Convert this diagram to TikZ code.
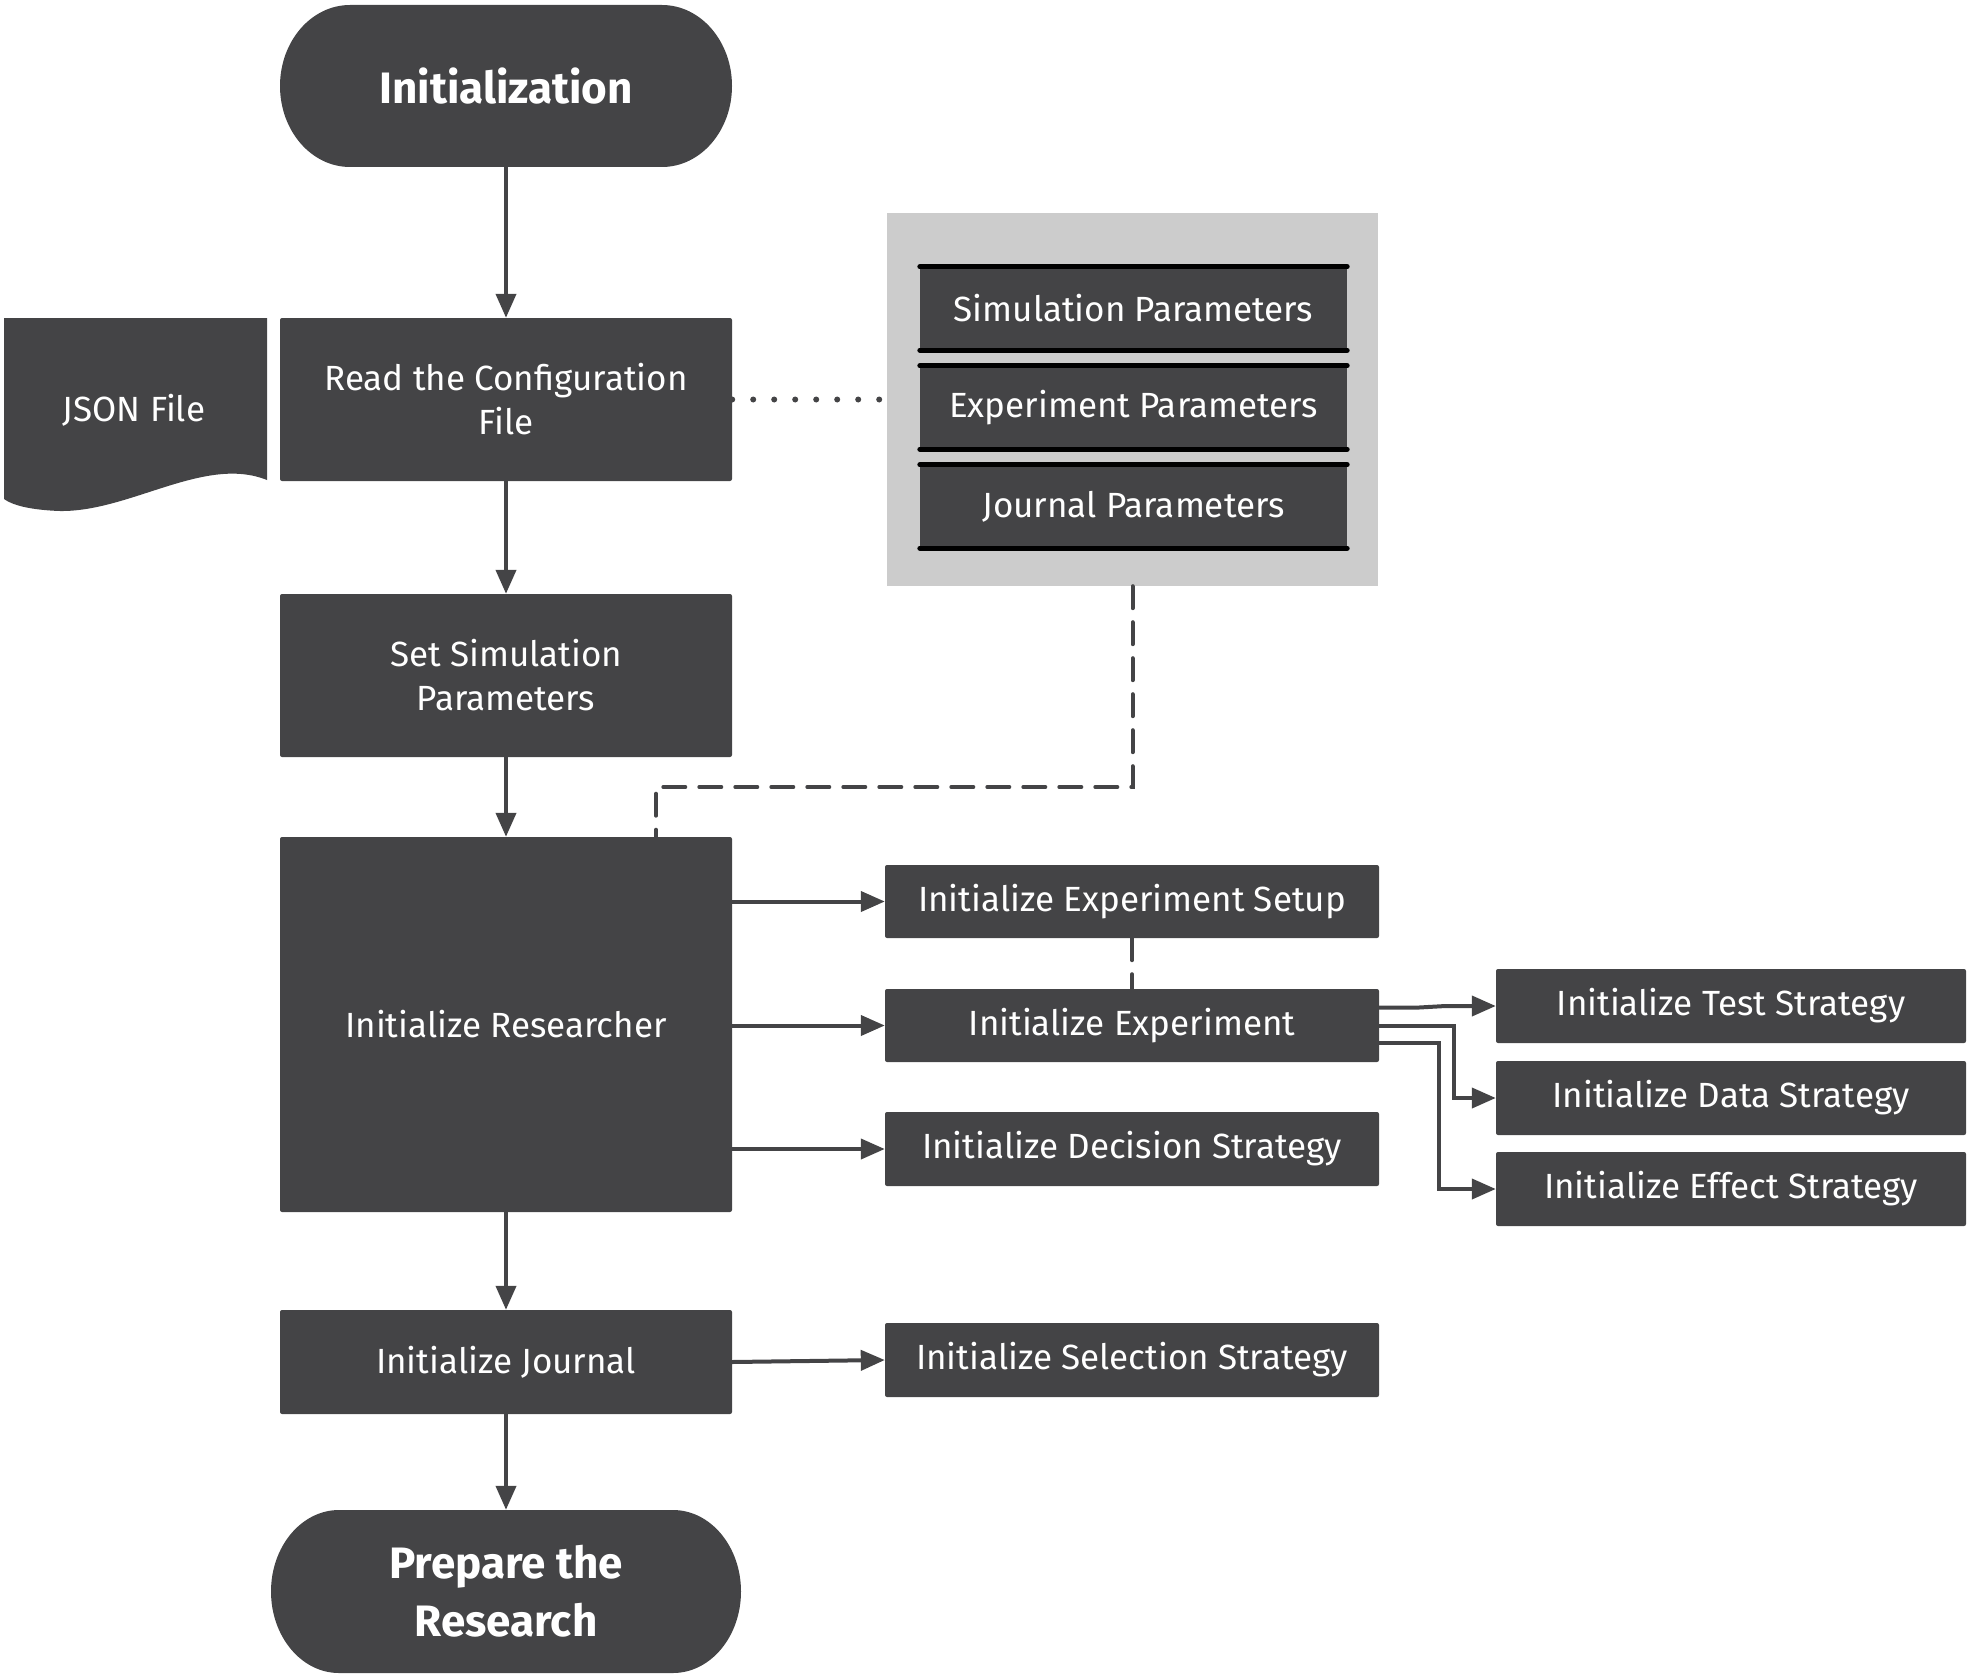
\documentclass[tikz,border=0pt]{standalone}
\usepackage{fontspec}
\setmainfont{Fira Sans}
\usetikzlibrary{arrows.meta,calc}
\definecolor{dk}{HTML}{444446}
\definecolor{lg}{HTML}{CCCCCC}
\begin{document}
\begin{tikzpicture}[x=1pt,y=-1pt,
  box/.style={fill=dk, text=white, inner sep=0pt, align=center, rounded corners=2pt,
    font=\fontsize{35}{44}\selectfont},
  term/.style={inner sep=0pt, text=white, align=center, font=\fontsize{44}{58}\selectfont\bfseries},
  bar/.style={fill=dk, text=white, inner sep=0pt, align=center, font=\fontsize{35}{44}\selectfont},
  arr/.style={draw=dk, line width=4pt, -{Triangle[length=24pt,width=20pt]}},
  dsh/.style={draw=dk, line width=4pt, line cap=round, dash pattern=on 22pt off 14pt},
  dts/.style={draw=dk, line width=6pt, line cap=round, dash pattern=on 0pt off 21pt},
  barline/.style={draw=black, line width=5pt, line cap=round}
]
\useasboundingbox (0,0) rectangle (1968,1675);

% terminators
\fill[dk] (350,5) -- (662,5) arc[start angle=90, end angle=-90, x radius=70pt, y radius=81pt]
  -- (350,167) arc[start angle=270, end angle=90, x radius=70pt, y radius=81pt] -- cycle;
\node[term, minimum width=452pt, minimum height=162pt] (init) at (506,86) {Initialization};

\fill[dk] (339,1510) -- (673,1510) arc[start angle=90, end angle=-90, x radius=68pt, y radius=81.5pt]
  -- (339,1673) arc[start angle=270, end angle=90, x radius=68pt, y radius=81.5pt] -- cycle;
\node[term, minimum width=470pt, minimum height=163pt] (prep) at (506,1591.5) {Prepare the\\Research};

% JSON file document shape
\fill[dk] (4,318) -- (267,318) -- (267,480)
  .. controls (205,455) and (130,512) .. (60,511)
  .. controls (30,510) and (12,505) .. (4,499) -- cycle;
\node[text=white, font=\fontsize{35}{44}\selectfont] (json) at (134,410) {JSON File};

% main column
\node[box, minimum width=452pt, minimum height=163pt] (read) at (506,399.5) {Read the Configuration\\File};
\node[box, minimum width=452pt, minimum height=163pt] (sim) at (506,675.5) {Set Simulation\\Parameters};
\node[box, minimum width=452pt, minimum height=375pt] (res) at (506,1024.5) {Initialize Researcher};
\node[box, minimum width=452pt, minimum height=104pt] (jour) at (506,1362) {Initialize Journal};

% parameter group
\node[fill=lg, inner sep=0pt, minimum width=491pt, minimum height=373pt] (gbox) at (1132.5,399.5) {};
\foreach \n/\yc/\t in {p1/308.5/Simulation Parameters, p2/407.5/Experiment Parameters, p3/506.5/Journal Parameters}{
  \node[bar, minimum width=427pt, minimum height=83pt] (\n) at (1133.5,\yc) {\t};
  \draw[barline] (\n.north west) -- (\n.north east);
  \draw[barline] (\n.south west) -- (\n.south east);
}

% second column
\node[box, minimum width=494pt, minimum height=73pt] (setup) at (1132,901.5) {Initialize Experiment Setup};
\node[box, minimum width=494pt, minimum height=73pt] (exper) at (1132,1025.5) {Initialize Experiment};
\node[box, minimum width=494pt, minimum height=74pt] (dec) at (1132,1149) {Initialize Decision Strategy};
\node[box, minimum width=494pt, minimum height=74pt] (sel) at (1132,1360) {Initialize Selection Strategy};

% third column
\node[box, minimum width=470pt, minimum height=74pt] (test) at (1731,1006) {Initialize Test Strategy};
\node[box, minimum width=470pt, minimum height=74pt] (data) at (1731,1098) {Initialize Data Strategy};
\node[box, minimum width=470pt, minimum height=74pt] (eff) at (1731,1189) {Initialize Effect Strategy};

% connectors
\draw[arr] (init) -- (read);
\draw[arr] (read) -- (sim);
\draw[arr] (sim) -- (res);
\draw[arr] (res) -- (jour);
\draw[arr] (jour) -- (prep);

\draw[dts] (read.east) -- (gbox.west);
\coordinate (dk1) at (656,787);
\draw[dsh] (gbox.south) |- (dk1) -- (dk1 |- res.north);

\draw[arr] (res.east |- setup) -- (setup.west);
\draw[arr] (res.east |- exper) -- (exper.west);
\draw[arr] (res.east |- dec) -- (dec.west);
\draw[dsh] (setup.south) -- (exper.north);
\draw[arr] (jour.east) -- (sel.west);

\coordinate (vd) at (1454,0);
\coordinate (ve) at (1439,0);
\draw[arr] ([yshift=18pt]exper.east) -- ++(40,0) -- ([xshift=-50pt]test.west) -- (test.west);
\draw[arr] (exper.east) -| (vd |- data.west) -- (data.west);
\draw[arr] ([yshift=-17pt]exper.east) -| (ve |- eff.west) -- (eff.west);
\end{tikzpicture}
\end{document}
